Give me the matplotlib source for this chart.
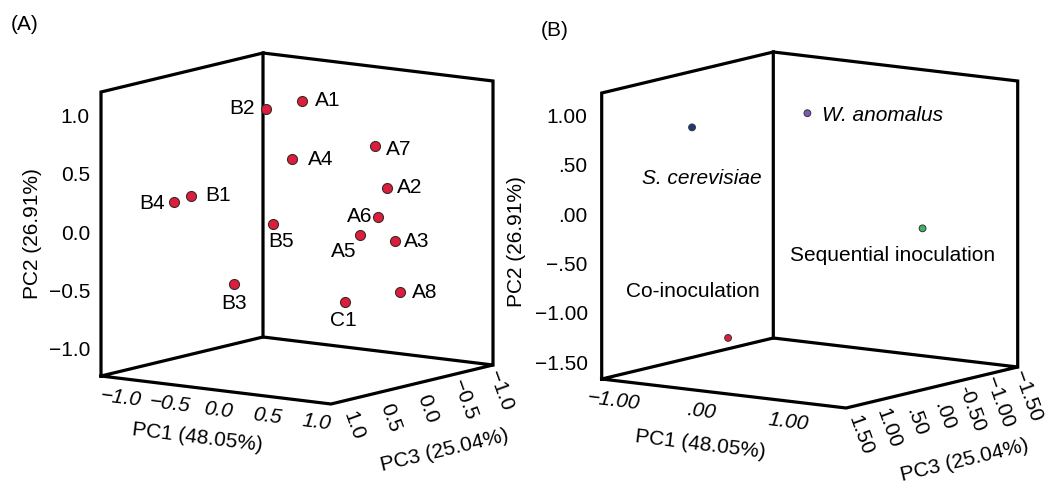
import numpy as np
import matplotlib
matplotlib.use("Agg")
import matplotlib.pyplot as plt

plt.rcParams['font.family'] = ['Liberation Sans', 'DejaVu Sans']

# ---- data : panel A (PCA scores, PC1 / PC2 / PC3)
names_a = ["B2", "A1", "A4", "A7", "A2", "B4", "B1", "B5", "A6", "A5", "A3", "B3", "A8", "C1"]
pc1_a = [0.29, 0.21, 0.33, 0.58, 0.55, -0.57, -0.55, 0.21, 0.68, 0.65, 0.55, 0.11, 0.76, 0.72]
pc2_a = [1.18, 1.15, 0.71, 0.72, 0.33, 0.31, 0.33, 0.15, 0.14, 0.01, -0.14, -0.31, -0.53, -0.51]
pc3_a = [0.8, 0.2, 0.5, -0.3, -0.5, 0.9, 0.7, 0.6, -0.2, 0.0, -0.6, 1.0, -0.4, 0.3]

# ---- data : panel B
names_b = ["S. cerevisiae", "W. anomalus", "Sequential inoculation", "Co-inoculation"]
pc1_b = [-0.75, -0.26, 0.80, 0.17]
pc2_b = [0.80, 0.82, -0.29, -1.13]
pc3_b = [0.5, -0.8, -1.2, 1.3]
colors_b = ["#1c3a7a", "#7a5ab8", "#3cb462", "#dc1e3c"]

ticks_a = [-1.0, -0.5, 0.0, 0.5, 1.0]
ticklab_a = ["\u22121.0", "\u22120.5", "0.0", "0.5", "1.0"]
pc2_ticks_b = [1.0, 0.5, 0.0, -0.5, -1.0, -1.5]
pc2_lab_b = ["1.00", ".50", ".00", "\u2212.50", "\u22121.00", "\u22121.50"]
pc1_ticks_b = [-1.0, 0.0, 1.0]
pc1_lab_b = ["\u22121.00", ".00", "1.00"]
pc3_ticks_b = [1.5, 1.0, 0.5, 0.0, -0.5, -1.0, -1.5]
pc3_lab_b = ["1.50", "1.00", ".50", ".00", "-0.50", "\u22121.00", "\u22121.50"]


class Box:
    """oblique view of a 3D box drawn on a flat (pixel like) axes"""
    def __init__(self, origin, v1, v2, v3, r1, r2, r3):
        self.o = np.array(origin, float)
        self.v1, self.v2, self.v3 = np.array(v1, float), np.array(v2, float), np.array(v3, float)
        self.r1, self.r2, self.r3 = r1, r2, r3

    def proj(self, p1, p2, p3):
        p1, p2, p3 = np.asarray(p1, float), np.asarray(p2, float), np.asarray(p3, float)
        a = (p1 - self.r1[0]) / (self.r1[1] - self.r1[0])
        b = (p2 - self.r2[0]) / (self.r2[1] - self.r2[0])
        c = (p3 - self.r3[0]) / (self.r3[1] - self.r3[0])
        x = self.o[0] + a * self.v1[0] + b * self.v2[0] + c * self.v3[0]
        y = self.o[1] + a * self.v1[1] + b * self.v2[1] + c * self.v3[1]
        return x, y

    def draw(self, ax):
        (a0, a1), (b0, b1), (c0, c1) = self.r1, self.r2, self.r3
        paths = [
            [(a0, b0, c1), (a0, b1, c1), (a0, b1, c0), (a0, b0, c0)],
            [(a0, b1, c0), (a1, b1, c0), (a1, b0, c0)],
            [(a0, b0, c1), (a0, b0, c0), (a1, b0, c0), (a1, b0, c1), (a0, b0, c1)],
        ]
        for pth in paths:
            p = np.array(pth)
            x, y = self.proj(p[:, 0], p[:, 1], p[:, 2])
            ax.plot(x, y, color='black', lw=2.3, solid_joinstyle='miter', solid_capstyle='projecting')


fig = plt.figure(figsize=(10.45, 4.86), dpi=100)
ax = fig.add_axes([0, 0, 1, 1])
ax.set_xlim(0, 1045)
ax.set_ylim(486, 0)
ax.axis('off')

FS = 15

def lab(x, y, s, dx, dy, **kw):
    ax.annotate(s, (x, y), xytext=(dx, -dy), textcoords='offset pixels', fontsize=FS, **kw)

# ================= panel A
boxA = Box((263, 337), (230, 28), (0, -284), (-162, 39), (-1.17, 1.18), (-1.22, 1.22), (-1.1, 1.1))
boxA.draw(ax)

xa, ya = boxA.proj(pc1_a, pc2_a, pc3_a)
ax.scatter(xa, ya, s=52, color='#dc1e3c', edgecolor='#3a2a2a', linewidth=0.8, zorder=5)

offs_a = {"B2": (-11, 0, 'right', 'center'), "A1": (13, 0, 'left', 'center'),
          "A4": (16, 1, 'left', 'center'), "A7": (11, 3, 'left', 'center'),
          "A2": (10, 0, 'left', 'center'), "B4": (-10, 2, 'right', 'center'),
          "B1": (14, 0, 'left', 'center'), "B5": (8, 17, 'center', 'center'),
          "A6": (-5, 0, 'right', 'center'), "A5": (-16, 16, 'center', 'center'),
          "A3": (9, 1, 'left', 'center'), "B3": (0, 20, 'center', 'center'),
          "A8": (12, 0, 'left', 'center'), "C1": (-2, 19, 'center', 'center')}
for n, x, y in zip(names_a, xa, ya):
    dx, dy, ha, va = offs_a[n]
    lab(x, y, n, dx, dy, ha=ha, va=va)

# ticks
r1, r2, r3 = boxA.r1, boxA.r2, boxA.r3
for t, s in zip(ticks_a, ticklab_a):
    x, y = boxA.proj(r1[0], t, r3[1])
    lab(x, y, s, -11, 0, ha='right', va='center')
    x, y = boxA.proj(t, r2[0], r3[1])
    lab(x, y, s, 3, 20, ha='center', va='center', rotation=-7, style='italic')
    x, y = boxA.proj(r1[1], r2[0], t)
    lab(x, y, s, 15, 24, ha='center', va='center', rotation=-70)

ax.text(33, 234, "PC2 (26.91%)", rotation=90, ha='center', va='center', fontsize=FS)
ax.text(197, 438, "PC1 (48.05%)", rotation=-7, ha='center', va='center', fontsize=FS)
ax.text(445, 450, "PC3 (25.04%)", rotation=13.5, ha='center', va='center', fontsize=FS)
ax.text(25, 24, "(A)", ha='center', va='center', fontsize=FS)

# ================= panel B
boxB = Box((773.3, 338), (244.4, 29), (0, -286), (-171.6, 41), (-1.12, 1.67), (-1.65, 1.25), (-1.54, 1.54))
boxB.draw(ax)

xb, yb = boxB.proj(pc1_b, pc2_b, pc3_b)
ax.scatter(xb, yb, s=24, color=colors_b, edgecolor='#333333', linewidth=0.7, zorder=5)

offs_b = [(10, 51, 'center', True), (15, 2, 'left', True), (-30, 27, 'center', False), (-35, -46, 'center', False)]
for n, x, y, (dx, dy, ha, it) in zip(names_b, xb, yb, offs_b):
    lab(x, y, n, dx, dy, ha=ha, va='center', style='italic' if it else 'normal')

r1, r2, r3 = boxB.r1, boxB.r2, boxB.r3
for t, s in zip(pc2_ticks_b, pc2_lab_b):
    x, y = boxB.proj(r1[0], t, r3[1])
    lab(x, y, s, -14, 0, ha='right', va='center')
for t, s in zip(pc1_ticks_b, pc1_lab_b):
    x, y = boxB.proj(t, r2[0], r3[1])
    lab(x, y, s, 1, 21, ha='center', va='center', rotation=-7, style='italic')
for t, s in zip(pc3_ticks_b, pc3_lab_b):
    x, y = boxB.proj(r1[1], r2[0], t)
    lab(x, y, s, 12, 28, ha='center', va='center', rotation=-70)

ax.text(517, 242, "PC2 (26.91%)", rotation=90, ha='center', va='center', fontsize=FS)
ax.text(700, 445, "PC1 (48.05%)", rotation=-7, ha='center', va='center', fontsize=FS)
ax.text(965, 460, "PC3 (25.04%)", rotation=13.5, ha='center', va='center', fontsize=FS)
ax.text(555, 31, "(B)", ha='center', va='center', fontsize=FS)

fig.savefig("out.png", dpi=100)
